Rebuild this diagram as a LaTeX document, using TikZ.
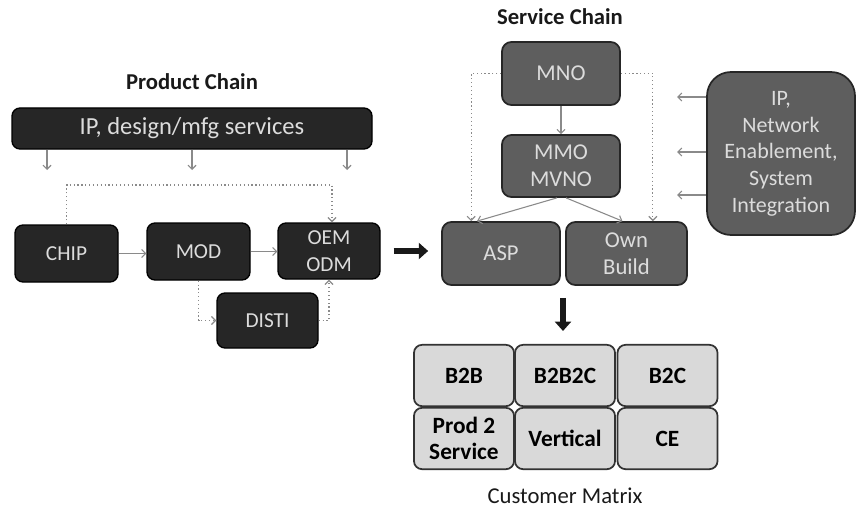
\documentclass[tikz,border=0pt]{standalone}
\usepackage{fontspec}
\setmainfont{Carlito}
\usetikzlibrary{arrows.meta,calc}
\definecolor{darkbox}{HTML}{262626}
\definecolor{midbox}{HTML}{5E5E5E}
\definecolor{lightbox}{HTML}{D9D9D9}
\definecolor{boxtext}{HTML}{DCDCDC}
\definecolor{linkgray}{HTML}{8A8A8A}
\tikzset{
  prodbox/.style={draw=black, line width=1pt, fill=darkbox, rounded corners=6pt,
    text=boxtext, font=\fontsize{16}{20}\selectfont, align=center, inner sep=0pt},
  servbox/.style={draw=black!85, line width=1.3pt, fill=midbox, rounded corners=7pt,
    text=boxtext, font=\fontsize{17}{20.5}\selectfont, align=center, inner sep=0pt},
  cellbox/.style={draw=black!80, line width=1.3pt, fill=lightbox, rounded corners=6pt,
    text=black, font=\bfseries\fontsize{17.5}{20}\selectfont, align=center, inner sep=0pt,
    minimum width=75pt, minimum height=46pt},
  chaintitle/.style={font=\bfseries\fontsize{17}{20}\selectfont, text=black!90, inner sep=0pt},
  flow/.style={draw=linkgray, line width=0.8pt, -{Straight Barb[length=3pt,width=6pt]}},
  dotflow/.style={draw=linkgray, line width=0.9pt, dotted, -{Straight Barb[length=3pt,width=6pt]}},
  bigarrow/.style={draw=black!90, line width=3.8pt, -{Triangle[length=7pt,width=12pt]}}
}
\begin{document}
\begin{tikzpicture}[x=0.75pt,y=-0.75pt]
\useasboundingbox (0,0) rectangle (857,510);

% ---------- product chain ----------
\node[chaintitle] (ptitle) at (192,82) {Product Chain};
\node[prodbox, minimum width=270pt, minimum height=30.75pt,
  font=\fontsize{18.4}{22}\selectfont] (ip) at (192,128.5) {IP, design/mfg services};
\node[prodbox, minimum width=77.25pt, minimum height=42.75pt] (chip) at (66.5,253.5) {CHIP};
\node[prodbox, minimum width=77.25pt, minimum height=42.75pt] (mod) at (198.5,251.5) {MOD};
\node[prodbox, minimum width=76.5pt, minimum height=42pt] (oem) at (329,251) {OEM\\ODM};
\node[prodbox, minimum width=75.75pt, minimum height=41.25pt] (disti) at (267.5,320.5) {DISTI};

% services feeding down from the IP bar
\coordinate (ipa) at (47,170);
\coordinate (ipb) at (192,170);
\coordinate (ipc) at (347,170);
\draw[flow] (ip.south -| ipa) -- (ipa);
\draw[flow] (ip.south -| ipb) -- (ipb);
\draw[flow] (ip.south -| ipc) -- (ipc);

\draw[flow] (chip.east) -- (chip.east -| mod.west);
\draw[flow] (mod.east) -- (mod.east -| oem.west);
\coordinate (ptop) at (0,185);
\draw[dotflow] (chip.north) -- (chip.north |- ptop) -| ($(oem.north)+(3,0)$);
\draw[dotflow] (mod.south) |- (disti.west);
\draw[dotflow] (disti.east) -| (oem.south);

% ---------- service chain ----------
\node[chaintitle] (stitle) at (560,17) {Service Chain};
\node[servbox, minimum width=88.5pt, minimum height=47.25pt] (mno) at (561,73.5) {MNO};
\node[servbox, minimum width=88.5pt, minimum height=46.5pt] (mmo) at (561,166) {MMO\\MVNO};
\node[servbox, minimum width=88.5pt, minimum height=47.25pt] (asp) at (501,253.5) {ASP};
\node[servbox, minimum width=90.75pt, minimum height=47.25pt] (own) at (626.5,253.5) {Own\\Build};
\node[servbox, rounded corners=18pt, minimum width=111pt, minimum height=122.25pt,
  font=\fontsize{16.5}{20}\selectfont] (ipn) at (781,153.5) {IP,\\Network\\Enablement,\\System\\Integration};

\draw[flow] (mno.south) -- (mmo.north);
\draw[flow] ($(mmo.south)+(-4,0)$) -- ($(asp.north)+(-24,0)$);
\draw[flow] ($(mmo.south)+(5,0)$) -- ($(own.north)+(-4,0)$);
\draw[dotflow] (mno.west) -| ($(asp.north west)+(30,0)$);
\draw[dotflow] (mno.east) -| ($(own.north east)+(-35,0)$);

% enablement feeding the service chain
\coordinate (ena) at (677,97);
\coordinate (enb) at (677,152);
\coordinate (enc) at (677,195);
\draw[flow] (ipn.west |- ena) -- (ena);
\draw[flow] (ipn.west |- enb) -- (enb);
\draw[flow] (ipn.west |- enc) -- (enc);

% product chain hands over to service chain
\draw[bigarrow, shorten <=9.75pt, shorten >=9.75pt] (oem.east) -- (oem.east -| asp.west);

% ---------- customer matrix ----------
\node[cellbox] (b2b)   at (464,375.5)   {B2B};
\node[cellbox] (b2b2c) at (565,375.5)   {B2B2C};
\node[cellbox] (b2c)   at (667.5,375.5) {B2C};
\node[cellbox] (p2s)   at (464,438.5)   {Prod 2\\Service};
\node[cellbox] (vert)  at (565,438.5)   {Vertical};
\node[cellbox] (ce)    at (667.5,438.5) {CE};
\node[chaintitle, font=\fontsize{17}{20}\selectfont] (mtitle) at (565,496) {Customer Matrix};

\coordinate (split) at ($(asp.south east)!0.5!(own.south west)$);
\draw[bigarrow, shorten <=9pt, shorten >=9.75pt] (split) -- (split |- b2b2c.north);
\end{tikzpicture}
\end{document}
